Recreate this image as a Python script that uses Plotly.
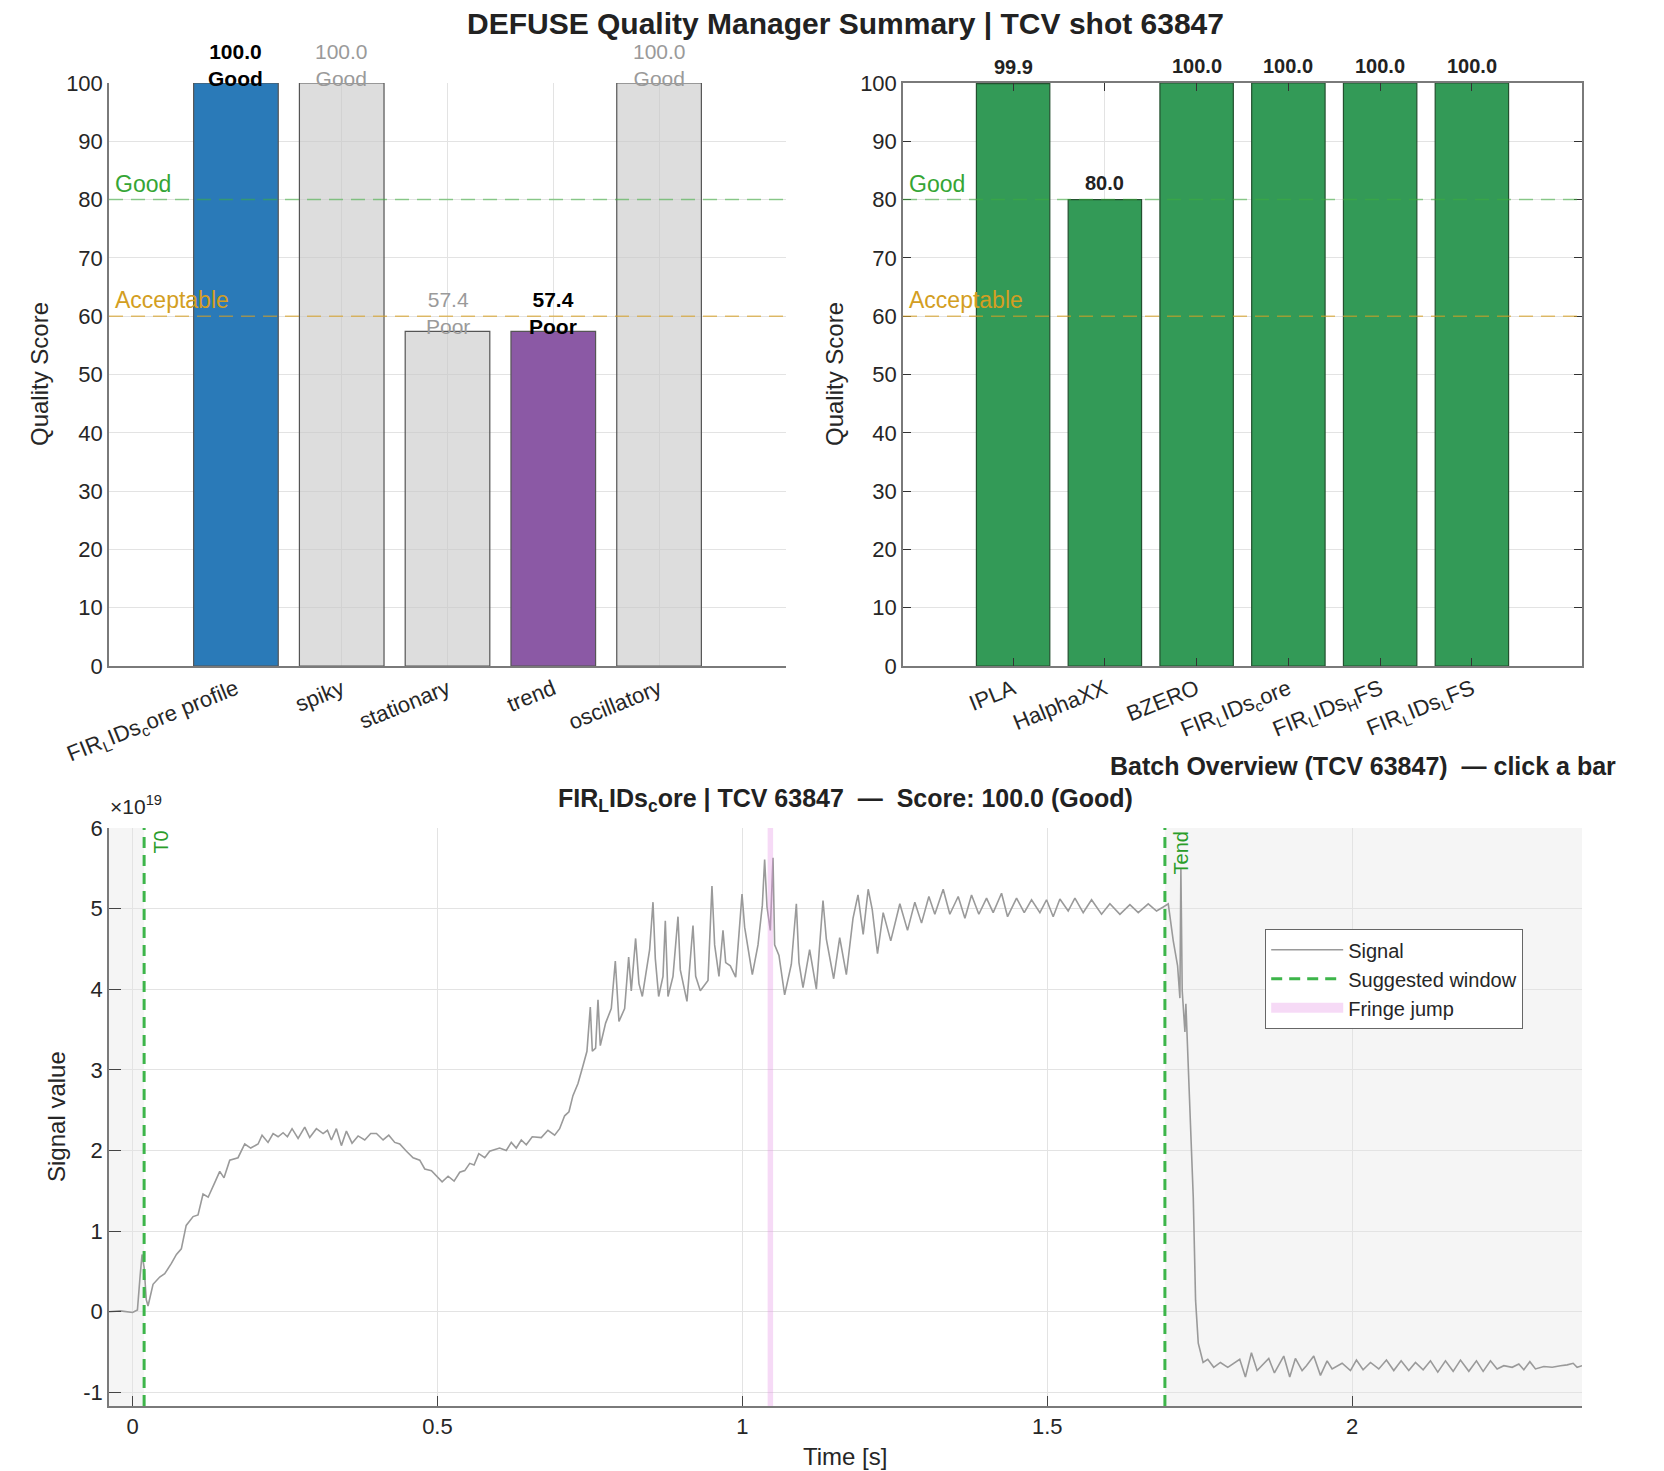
import plotly.graph_objects as go

FONT = "Liberation Sans, Arial, Helvetica, sans-serif"

# ---------------- data ----------------
TITLE = "DEFUSE Quality Manager Summary | TCV shot 63847"
BATCH_TITLE = "Batch Overview (TCV 63847)  \u2014 click a bar"
DETAIL_TITLE = "FIR<sub>L</sub>IDs<sub>c</sub>ore | TCV 63847  \u2014  Score: 100.0 (Good)"

LEFT_CATEGORIES = ["FIR<sub>L</sub>IDs<sub>c</sub>ore profile", "spiky", "stationary", "trend", "oscillatory"]
LEFT_SCORES = [100.0, 100.0, 57.4, 57.4, 100.0]
LEFT_RATINGS = ["Good", "Good", "Poor", "Poor", "Good"]
LEFT_ACTIVE = [True, False, False, True, False]

RIGHT_CATEGORIES = ["IPLA", "HalphaXX", "BZERO",
                    "FIR<sub>L</sub>IDs<sub>c</sub>ore",
                    "FIR<sub>L</sub>IDs<sub>H</sub>FS",
                    "FIR<sub>L</sub>IDs<sub>L</sub>FS"]
RIGHT_SCORES = [99.9, 80.0, 100.0, 100.0, 100.0, 100.0]

THRESHOLD_VALUES = [80, 60]
THRESHOLD_NAMES = ["Good", "Acceptable"]
SCORE_TICKS = [0, 10, 20, 30, 40, 50, 60, 70, 80, 90, 100]

# signal, time in s, value in units of 1e19
SIGNAL_T = [
    -0.0386, -0.02, 0.0, 0.008, 0.0125, 0.0156, 0.019, 0.0225, 0.0254, 0.0295,
    0.0336, 0.0446, 0.0528, 0.0637, 0.072, 0.080, 0.088, 0.0993, 0.1074, 0.1156,
    0.124, 0.1348, 0.143, 0.150, 0.1594, 0.173, 0.184, 0.1938, 0.2059, 0.2124,
    0.2222, 0.2305, 0.2387, 0.2469, 0.254, 0.2616, 0.2715, 0.2824, 0.2906, 0.3015,
    0.3125, 0.3196, 0.3261, 0.3343, 0.3425, 0.3507, 0.360, 0.3699, 0.3808, 0.3906,
    0.400, 0.4109, 0.4202, 0.430, 0.4382, 0.4492, 0.4601, 0.471, 0.4792, 0.4902,
    0.4984, 0.5077, 0.5175, 0.5273, 0.5366, 0.5448, 0.553, 0.5601, 0.5678, 0.5776,
    0.5856, 0.602, 0.6129, 0.6211, 0.6293, 0.6375, 0.6457, 0.6555, 0.6703, 0.6812,
    0.6922, 0.7004, 0.7086, 0.7157, 0.7222, 0.7305, 0.7387, 0.7452, 0.7507, 0.754,
    0.7594, 0.7633, 0.7671, 0.7758, 0.7851, 0.7917, 0.7977, 0.807, 0.8136, 0.8179,
    0.825, 0.8305, 0.836, 0.848, 0.8535, 0.8573, 0.8628, 0.8699, 0.8737, 0.8781,
    0.8863, 0.8945, 0.8983, 0.9092, 0.9191, 0.9235, 0.9311, 0.9437, 0.9502, 0.9546,
    0.9617, 0.9683, 0.9727, 0.9803, 0.9891, 0.9995, 1.0038, 1.0164, 1.0257, 1.0328,
    1.0366, 1.0405, 1.0459, 1.0503, 1.053, 1.0601, 1.0694, 1.0804, 1.0886, 1.0929,
    1.0995, 1.1104, 1.1214, 1.1323, 1.1378, 1.1498, 1.1597, 1.1706, 1.1815, 1.1897,
    1.1982, 1.2064, 1.213, 1.2217, 1.231, 1.2434, 1.2583, 1.2709, 1.2829, 1.2939,
    1.3059, 1.3157, 1.3294, 1.3403, 1.354, 1.365, 1.3759, 1.3879, 1.4005, 1.4114,
    1.4251, 1.435, 1.4497, 1.4623, 1.4743, 1.488, 1.4989, 1.5098, 1.5208, 1.5344,
    1.5454, 1.559, 1.5727, 1.5891, 1.6028, 1.6192, 1.6356, 1.6493, 1.6657, 1.6793,
    1.6903, 1.6985, 1.7067, 1.7138, 1.7176, 1.7192, 1.7214, 1.7258, 1.7274, 1.7313,
    1.7356, 1.7395, 1.7433, 1.7477, 1.7556, 1.7633, 1.7731, 1.784, 1.7961, 1.8048,
    1.8157, 1.825, 1.8349, 1.8442, 1.8524, 1.8633, 1.8726, 1.8879, 1.8977, 1.907,
    1.918, 1.9251, 1.9371, 1.9481, 1.959, 1.9672, 1.9836, 1.9973, 2.0071, 2.018,
    2.0301, 2.0437, 2.0563, 2.0683, 2.0804, 2.0929, 2.1039, 2.1165, 2.1285, 2.1405,
    2.1531, 2.1657, 2.1777, 2.1914, 2.2039, 2.2149, 2.2269, 2.2378, 2.2488, 2.2625,
    2.2734, 2.2816, 2.2915, 2.3007, 2.3144, 2.3281, 2.3417, 2.3527, 2.3625, 2.369,
    2.3772,
]
SIGNAL_V = [
    0.00, 0.01, -0.01, 0.02, 0.45, 0.71, 0.55, 0.15, 0.07, 0.20,
    0.34, 0.43, 0.47, 0.60, 0.71, 0.78, 1.07, 1.18, 1.20, 1.46,
    1.42, 1.60, 1.74, 1.66, 1.88, 1.91, 2.08, 2.03, 2.08, 2.19,
    2.10, 2.21, 2.17, 2.22, 2.17, 2.27, 2.15, 2.29, 2.16, 2.27,
    2.21, 2.25, 2.13, 2.27, 2.06, 2.24, 2.09, 2.18, 2.13, 2.21,
    2.21, 2.13, 2.19, 2.10, 2.08, 1.99, 1.91, 1.88, 1.77, 1.75,
    1.69, 1.61, 1.68, 1.62, 1.73, 1.75, 1.84, 1.82, 1.96, 1.91,
    1.99, 2.03, 2.00, 2.10, 2.03, 2.13, 2.07, 2.17, 2.16, 2.25,
    2.19, 2.27, 2.43, 2.48, 2.68, 2.83, 3.05, 3.23, 3.78, 3.23,
    3.27, 3.87, 3.30, 3.58, 3.76, 4.35, 3.60, 3.76, 4.40, 3.98,
    4.63, 4.07, 3.91, 4.49, 5.08, 4.38, 3.91, 4.16, 4.85, 3.91,
    4.16, 4.90, 4.24, 3.85, 4.79, 4.16, 3.98, 4.11, 5.28, 4.55,
    4.16, 4.73, 4.33, 4.29, 4.15, 5.18, 4.77, 4.18, 4.55, 5.04,
    5.61, 5.02, 4.73, 5.63, 4.55, 4.42, 3.93, 4.31, 5.06, 4.33,
    4.02, 4.49, 4.00, 5.10, 4.62, 4.13, 4.64, 4.18, 4.88, 5.17,
    4.68, 5.24, 4.99, 4.44, 4.95, 4.60, 5.06, 4.73, 5.08, 4.82,
    5.15, 4.93, 5.24, 4.93, 5.15, 4.88, 5.17, 4.93, 5.13, 4.95,
    5.19, 4.90, 5.13, 4.95, 5.11, 4.95, 5.11, 4.90, 5.12, 4.97,
    5.13, 4.95, 5.11, 4.93, 5.06, 4.93, 5.05, 4.95, 5.06, 4.97,
    5.02, 5.06, 4.60, 4.29, 3.89, 5.50, 3.98, 3.47, 3.82, 3.05,
    2.43, 1.42, 0.14, -0.39, -0.63, -0.59, -0.69, -0.63, -0.69, -0.65,
    -0.59, -0.81, -0.51, -0.73, -0.67, -0.58, -0.76, -0.55, -0.81, -0.58,
    -0.73, -0.67, -0.55, -0.79, -0.61, -0.71, -0.64, -0.73, -0.60, -0.72,
    -0.63, -0.71, -0.60, -0.73, -0.61, -0.73, -0.63, -0.72, -0.61, -0.75,
    -0.61, -0.74, -0.60, -0.74, -0.61, -0.74, -0.61, -0.71, -0.67, -0.69,
    -0.65, -0.72, -0.62, -0.71, -0.68, -0.69, -0.67, -0.66, -0.64, -0.69,
    -0.67,
]
WINDOW = [0.019, 1.693]          # T0, Tend
WINDOW_NAMES = ["T0", "Tend"]
FRINGE_JUMP = [1.0415, 1.0505]
TIME_RANGE = [-0.0386, 2.377]
SIGNAL_RANGE = [-1.17, 6.0]
TIME_TICKS = [0, 0.5, 1, 1.5, 2]
TIME_TICKTEXT = ["0", "0.5", "1", "1.5", "2"]
SIGNAL_TICKS = [-1, 0, 1, 2, 3, 4, 5, 6]
SIGNAL_TICKTEXT = ["-1", "0", "1", "2", "3", "4", "5", "6"]

# ---------------- style ----------------
W, H = 1664, 1471
def px_x(p):
    return p / W
def px_y(p):
    return 1 - p / H

DOM_TL_X = [px_x(109), px_x(786)]
DOM_TR_X = [px_x(903), px_x(1582)]
DOM_TOP_Y = [px_y(666), px_y(83)]
DOM_B_X = [px_x(109), px_x(1582)]
DOM_B_Y = [px_y(1406), px_y(828)]

LEFT_COLORS = ["#2a7ab8", "rgba(200,200,200,0.62)", "rgba(200,200,200,0.62)", "#8b59a5", "rgba(200,200,200,0.62)"]
GREEN_BAR = "#339a57"
GRID = "#e3e3e3"
AXLINE = "#7a7a7a"
TXT = "#262626"
GOOD_C = "#35a535"
ACC_C = "#d39e22"
THR_LINE = ["rgba(60,175,60,0.55)", "rgba(215,160,35,0.65)"]
THR_TEXT = [GOOD_C, ACC_C]
FRINGE_COLOR = "rgba(228,150,228,0.35)"

fig = go.Figure()

left_x = list(range(1, len(LEFT_CATEGORIES) + 1))
right_x = list(range(1, len(RIGHT_CATEGORIES) + 1))

fig.add_trace(go.Bar(
    x=left_x, y=LEFT_SCORES, width=0.8, xaxis="x", yaxis="y", showlegend=False,
    marker=dict(color=LEFT_COLORS, line=dict(color="#555555", width=1.2)),
    hoverinfo="skip"))
fig.add_trace(go.Bar(
    x=right_x, y=RIGHT_SCORES, width=0.8, xaxis="x2", yaxis="y2", showlegend=False,
    marker=dict(color=GREEN_BAR, line=dict(color="#23502f", width=1.2)),
    hoverinfo="skip"))

# bottom panel traces
fig.add_trace(go.Scatter(
    x=SIGNAL_T, y=SIGNAL_V, mode="lines", name="Signal", xaxis="x3", yaxis="y3",
    line=dict(color="#9a9a9a", width=1.6)))
win_x = [WINDOW[0], WINDOW[0], None, WINDOW[1], WINDOW[1]]
win_y = [SIGNAL_RANGE[0], SIGNAL_RANGE[1], None, SIGNAL_RANGE[0], SIGNAL_RANGE[1]]
fig.add_trace(go.Scatter(
    x=win_x, y=win_y, mode="lines", name="Suggested window", xaxis="x3", yaxis="y3",
    line=dict(color="#3db54a", width=3, dash="11px,7px")))
fx = [FRINGE_JUMP[0], FRINGE_JUMP[1], FRINGE_JUMP[1], FRINGE_JUMP[0], FRINGE_JUMP[0]]
fy = [SIGNAL_RANGE[0], SIGNAL_RANGE[0], SIGNAL_RANGE[1], SIGNAL_RANGE[1], SIGNAL_RANGE[0]]
fig.add_trace(go.Scatter(
    x=fx, y=fy, mode="lines", fill="toself", name="Fringe jump", xaxis="x3", yaxis="y3",
    fillcolor=FRINGE_COLOR, line=dict(width=0, color=FRINGE_COLOR), showlegend=False))
# legend swatch for the fringe band (legend only, no drawn data)
fig.add_trace(go.Scatter(
    x=[None], y=[None], mode="lines", name="Fringe jump", xaxis="x3", yaxis="y3",
    line=dict(width=15, color=FRINGE_COLOR)))

# shaded regions outside the suggested window
for x0, x1 in [(TIME_RANGE[0], WINDOW[0]), (WINDOW[1], TIME_RANGE[1])]:
    fig.add_shape(type="rect", xref="x3", yref="y3", x0=x0, x1=x1,
                  y0=SIGNAL_RANGE[0], y1=SIGNAL_RANGE[1],
                  fillcolor="#f5f5f5", line_width=0, layer="below")

# thresholds on top panels
for axx, axy in [("x", "y"), ("x2", "y2")]:
    for val, name, lc, tc in zip(THRESHOLD_VALUES, THRESHOLD_NAMES, THR_LINE, THR_TEXT):
        fig.add_shape(type="line", xref=axx + " domain", yref=axy, x0=0, x1=1, y0=val, y1=val,
                      line=dict(color=lc, width=1.5, dash="14px,8px"), layer="above")
        fig.add_annotation(xref=axx + " domain", yref=axy, x=0, y=val, text=name,
                           showarrow=False, xanchor="left", yanchor="bottom", xshift=4, yshift=1,
                           font=dict(family=FONT, size=23, color=tc))

# bar labels left
for xi, val, rating, act in zip(left_x, LEFT_SCORES, LEFT_RATINGS, LEFT_ACTIVE):
    txt = f"{val:.1f}<br>{rating}"
    if act:
        txt = f"<b>{val:.1f}</b><br><b>{rating}</b>"
    fig.add_annotation(xref="x", yref="y", x=xi, y=val, text=txt, showarrow=False,
                       xanchor="center", yanchor="bottom", yshift=-9,
                       font=dict(family=FONT, size=21, color="#000000" if act else "#9a9a9a"))
# bar labels right
for xi, val in zip(right_x, RIGHT_SCORES):
    fig.add_annotation(xref="x2", yref="y2", x=xi, y=val, text=f"<b>{val:.1f}</b>", showarrow=False,
                       xanchor="center", yanchor="bottom", yshift=4,
                       font=dict(family=FONT, size=20, color="#222222"))

# window labels
for tv, nm in zip(WINDOW, WINDOW_NAMES):
    fig.add_annotation(xref="x3", yref="y3", x=tv, y=SIGNAL_RANGE[1], text=nm, textangle=-90,
                       showarrow=False, xanchor="left", yanchor="top", xshift=3, yshift=-1,
                       font=dict(family=FONT, size=20, color="#2a9d2a"))

# titles / texts
def paper_text(x, y, text, size, xanchor="center", yanchor="middle", angle=0, color="#222222"):
    fig.add_annotation(xref="paper", yref="paper", x=x, y=y, text=text, showarrow=False,
                       xanchor=xanchor, yanchor=yanchor, textangle=angle,
                       font=dict(family=FONT, size=size, color=color))

paper_text(px_x(845), px_y(23), f"<b>{TITLE}</b>", 30)
paper_text(px_x(1618), px_y(766), f"<b>{BATCH_TITLE}</b>", 25, xanchor="right")
paper_text(px_x(845), px_y(800), f"<b>{DETAIL_TITLE}</b>", 25)
paper_text(px_x(39), px_y(374), "Quality Score", 24, angle=-90, color=TXT)
paper_text(px_x(834), px_y(374), "Quality Score", 24, angle=-90, color=TXT)
paper_text(px_x(56), px_y(1117), "Signal value", 24, angle=-90, color=TXT)
paper_text(px_x(845), px_y(1456), "Time [s]", 24, color=TXT)
paper_text(px_x(108), px_y(805), "\u00d710<sup>19</sup>", 21, xanchor="left", color=TXT)

base_axis = dict(showline=True, linecolor=AXLINE, linewidth=1.5, gridcolor=GRID, gridwidth=1,
                 zeroline=False, showgrid=True, automargin=False,
                 tickfont=dict(family=FONT, size=22, color=TXT))

fig.update_layout(
    width=W, height=H, autosize=False,
    margin=dict(l=0, r=0, t=0, b=0, autoexpand=False),
    paper_bgcolor="white", plot_bgcolor="white",
    bargap=0.2,
    font=dict(family=FONT, color=TXT),
    xaxis=dict(base_axis, domain=DOM_TL_X, anchor="y", range=[-0.2, 6.2],
               tickvals=left_x, ticktext=LEFT_CATEGORIES, tickangle=-22, ticks="",
               tickfont=dict(family=FONT, size=22, color=TXT)),
    yaxis=dict(base_axis, domain=DOM_TOP_Y, anchor="x", range=[0, 100],
               tickvals=SCORE_TICKS, ticks=""),
    xaxis2=dict(base_axis, domain=DOM_TR_X, anchor="y2", range=[-0.2, 7.2],
                tickvals=right_x, ticktext=RIGHT_CATEGORIES, tickangle=-22,
                ticks="inside", ticklen=8, tickcolor="#333333", mirror="ticks",
                tickfont=dict(family=FONT, size=22, color=TXT)),
    yaxis2=dict(base_axis, domain=DOM_TOP_Y, anchor="x2", range=[0, 100],
                tickvals=SCORE_TICKS, ticks="inside", ticklen=8, tickcolor="#333333",
                mirror="ticks"),
    xaxis3=dict(base_axis, domain=DOM_B_X, anchor="y3", range=TIME_RANGE,
                tickvals=TIME_TICKS, ticktext=TIME_TICKTEXT, ticks="inside", ticklen=10,
                tickcolor="#444444"),
    yaxis3=dict(base_axis, domain=DOM_B_Y, anchor="x3", range=SIGNAL_RANGE,
                tickvals=SIGNAL_TICKS, ticktext=SIGNAL_TICKTEXT, ticks="inside", ticklen=12,
                tickcolor="#444444"),
    legend=dict(x=px_x(1265), y=px_y(929), xanchor="left", yanchor="top",
                bgcolor="white", bordercolor="#666666", borderwidth=1.2,
                font=dict(family=FONT, size=20, color=TXT), itemwidth=72,
                tracegroupgap=0, traceorder="normal"),
    showlegend=True,
)

fig.write_html("out.html", config={"displayModeBar": False},
               post_script="document.body.style.margin='0';document.body.style.overflow='hidden';")
